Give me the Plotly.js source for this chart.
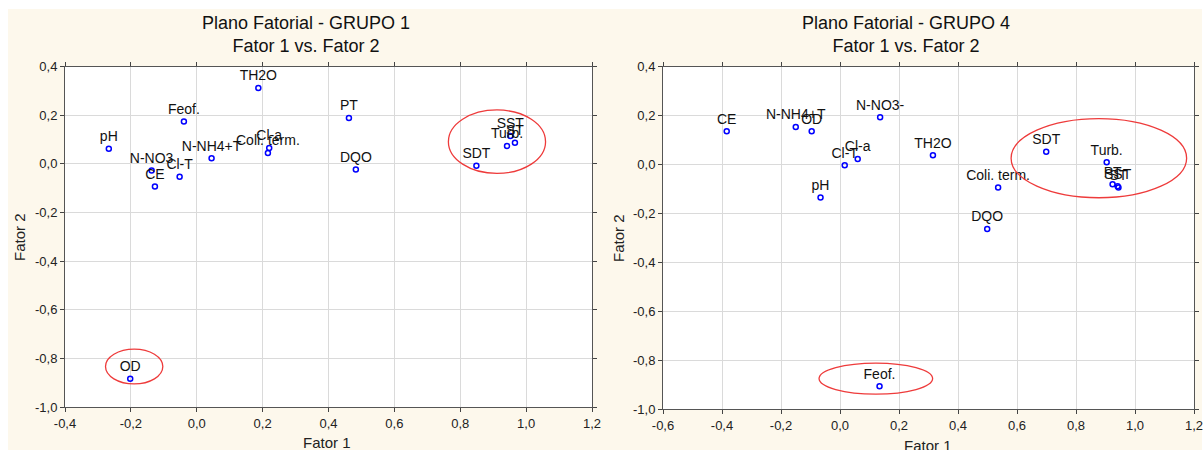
<!DOCTYPE html>
<html>
<head>
<meta charset="utf-8">
<script src="https://cdn.plot.ly/plotly-3.0.1.min.js"></script>
<style>html,body{margin:0;padding:0;background:#fff;}#chart{width:1203px;height:450px;}</style>
</head>
<body>
<div id="chart"></div>
<script>
// ---- Data: GRUPO 1 ----
const labelsG1 = ['TH2O','Feof.','pH','N-NH4+T','Cl-a','Coli. term.','N-NO3','CE','Cl-T','PT','DQO','SDT','Turb.','SST','ST','OD'];
const fator1G1 = [0.187,-0.039,-0.267,0.045,0.220,0.216,-0.137,-0.127,-0.052,0.462,0.483,0.849,0.942,0.952,0.966,-0.202];
const fator2G1 = [0.312,0.175,0.062,0.023,0.066,0.045,-0.027,-0.093,-0.053,0.189,-0.023,-0.007,0.074,0.115,0.087,-0.884];

// ---- Data: GRUPO 4 ----
const labelsG4 = ['CE','N-NH4+T','OD','N-NO3-','Cl-a','Cl-T','pH','TH2O','SDT','Coli. term.','Turb.','PT','SST','ST','DQO','Feof.'];
const fator1G4 = [-0.384,-0.150,-0.096,0.136,0.060,0.016,-0.066,0.315,0.699,0.536,0.904,0.924,0.941,0.944,0.499,0.134];
const fator2G4 = [0.136,0.153,0.136,0.193,0.023,-0.003,-0.135,0.038,0.052,-0.094,0.009,-0.081,-0.089,-0.094,-0.264,-0.907];

// ---- Highlight ellipses (data units) ----
const ellipseXG1 = [[0.764,1.059],[-0.277,-0.103]];
const ellipseYG1 = [[-0.039,0.222],[-0.905,-0.762]];
const ellipseXG4 = [[0.580,1.175],[-0.071,0.314]];
const ellipseYG4 = [[-0.136,0.188],[-0.939,-0.812]];

// ---- Ticks ----
const xTicksG1 = [-0.4,-0.2,0.0,0.2,0.4,0.6,0.8,1.0,1.2];
const xTickTextG1 = ['-0,4','-0,2','0,0','0,2','0,4','0,6','0,8','1,0','1,2'];
const xTicksG4 = [-0.6,-0.4,-0.2,0.0,0.2,0.4,0.6,0.8,1.0,1.2];
const xTickTextG4 = ['-0,6','-0,4','-0,2','0,0','0,2','0,4','0,6','0,8','1,0','1,2'];
const yTicks = [-1.0,-0.8,-0.6,-0.4,-0.2,0.0,0.2,0.4];
const yTickText = ['-1,0','-0,8','-0,6','-0,4','-0,2','0,0','0,2','0,4'];

const titleG1 = 'Plano Fatorial - GRUPO 1<br>Fator 1 vs. Fator 2';
const titleG4 = 'Plano Fatorial - GRUPO 4<br>Fator 1 vs. Fator 2';

const FONT = 'Liberation Sans, Arial, sans-serif';
const W = 1203, H = 450;
const px = v => v / W;
const py = v => 1 - v / H;

function scatter(x, y, labels, xa, ya) {
  return {
    type: 'scatter', mode: 'markers+text', x: x, y: y, text: labels,
    xaxis: xa, yaxis: ya, textposition: 'top center', cliponaxis: false,
    textfont: {family: FONT, size: 14, color: '#111'},
    marker: {symbol: 'circle-open', size: 5, color: '#0000ff', line: {width: 1.5, color: '#0000ff'}},
    hoverinfo: 'text', showlegend: false
  };
}

function axisCommon() {
  return {
    showline: true, linecolor: '#555', linewidth: 1, mirror: 'ticks',
    ticks: 'outside', ticklen: 4, tickcolor: '#444',
    showgrid: true, gridcolor: '#dadada', gridwidth: 1,
    zeroline: false, tickfont: {family: FONT, size: 13, color: '#222'},
    ticklabeloverflow: 'allow', fixedrange: true
  };
}

const traces = [
  scatter(fator1G1, fator2G1, labelsG1, 'x', 'y'),
  scatter(fator1G4, fator2G4, labelsG4, 'x2', 'y2')
];

const shapes = [
  {type:'rect', xref:'paper', yref:'paper', x0:0, x1:1, y0:py(9), y1:1, fillcolor:'#ffffff', line:{width:0}, layer:'below'},
  {type:'rect', xref:'paper', yref:'paper', x0:0, x1:px(8), y0:0, y1:1, fillcolor:'#ffffff', line:{width:0}, layer:'below'},
  {type:'rect', xref:'paper', yref:'paper', x0:px(1202), x1:1, y0:0, y1:1, fillcolor:'#ffffff', line:{width:0}, layer:'below'}
];
ellipseXG1.forEach((ex, i) => shapes.push({type:'circle', xref:'x', yref:'y', x0:ex[0], x1:ex[1], y0:ellipseYG1[i][0], y1:ellipseYG1[i][1], line:{color:'#ee3b3b', width:1.3}}));
ellipseXG4.forEach((ex, i) => shapes.push({type:'circle', xref:'x2', yref:'y2', x0:ex[0], x1:ex[1], y0:ellipseYG4[i][0], y1:ellipseYG4[i][1], line:{color:'#ee3b3b', width:1.3}}));

const annotations = [
  {text: titleG1, xref:'paper', yref:'paper', x:px(306), y:py(34), xanchor:'center', yanchor:'middle', showarrow:false, font:{family:FONT, size:18, color:'#111'}},
  {text: titleG4, xref:'paper', yref:'paper', x:px(906), y:py(34), xanchor:'center', yanchor:'middle', showarrow:false, font:{family:FONT, size:18, color:'#111'}},
  {text: 'Fator 1', xref:'paper', yref:'paper', x:px(327), y:py(442), xanchor:'center', yanchor:'middle', showarrow:false, font:{family:FONT, size:15, color:'#222'}},
  {text: 'Fator 1', xref:'paper', yref:'paper', x:px(928), y:py(445), xanchor:'center', yanchor:'middle', showarrow:false, font:{family:FONT, size:15, color:'#222'}},
  {text: 'Fator 2', xref:'paper', yref:'paper', x:px(20), y:py(237), xanchor:'center', yanchor:'middle', textangle:-90, showarrow:false, font:{family:FONT, size:15, color:'#222'}},
  {text: 'Fator 2', xref:'paper', yref:'paper', x:px(619), y:py(238), xanchor:'center', yanchor:'middle', textangle:-90, showarrow:false, font:{family:FONT, size:15, color:'#222'}}
];

const layout = {
  width: W, height: H,
  margin: {l:0, r:0, t:0, b:0, pad:0},
  paper_bgcolor: '#fdf8ec', plot_bgcolor: '#ffffff',
  showlegend: false,
  xaxis: Object.assign(axisCommon(), {domain:[px(65), px(592)], range:[-0.4,1.2], tickvals:xTicksG1, ticktext:xTickTextG1, anchor:'y'}),
  yaxis: Object.assign(axisCommon(), {domain:[py(407), py(66.7)], range:[-1.0,0.4], tickvals:yTicks, ticktext:yTickText, anchor:'x'}),
  xaxis2: Object.assign(axisCommon(), {domain:[px(663), px(1194)], range:[-0.6,1.2], tickvals:xTicksG4, ticktext:xTickTextG4, anchor:'y2'}),
  yaxis2: Object.assign(axisCommon(), {domain:[py(409), py(66.7)], range:[-1.0,0.4], tickvals:yTicks, ticktext:yTickText, anchor:'x2'}),
  shapes: shapes,
  annotations: annotations
};

Plotly.newPlot('chart', traces, layout, {displayModeBar:false, staticPlot:true});
</script>
</body>
</html>
